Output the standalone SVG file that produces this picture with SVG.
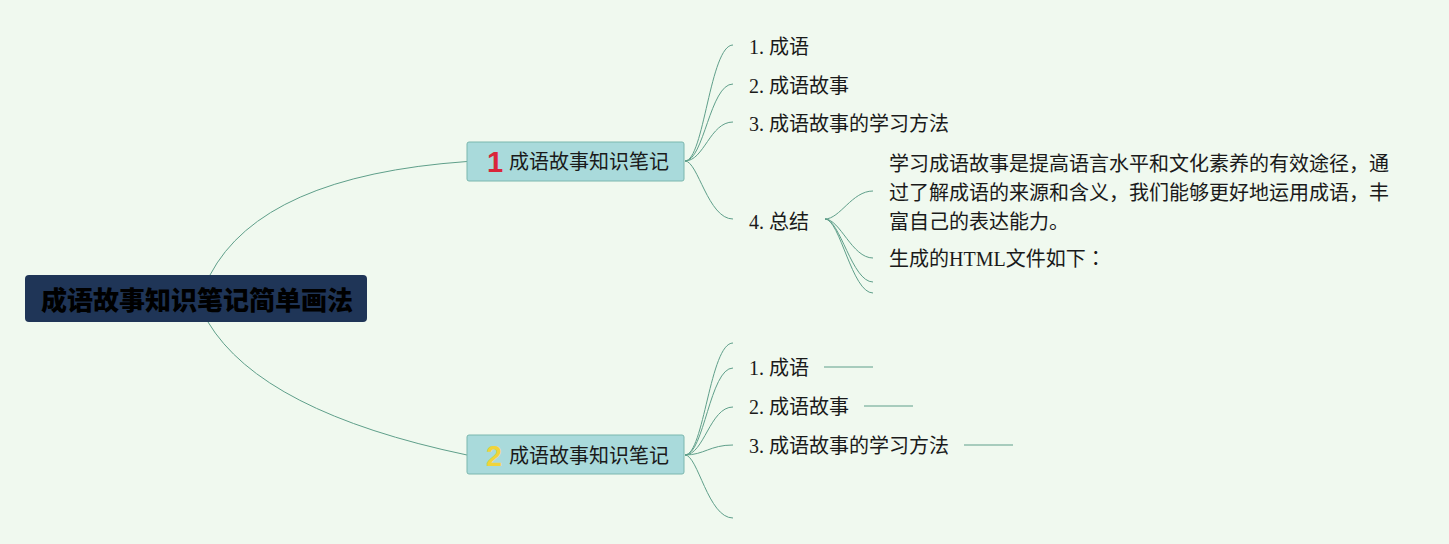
<svg xmlns="http://www.w3.org/2000/svg" width="1449" height="544" viewBox="0 0 1449 544">
<style>
.bg{fill:#f0f9ef}
.c{fill:none;stroke:#5f9f8a;stroke-width:1}
.t{font-family:"Liberation Serif","Noto Sans CJK SC",sans-serif;font-size:20px;fill:#1a1a1a}
.nt{font-family:"Noto Sans CJK SC",sans-serif;font-size:20px;fill:#1a1a1a}
.br{fill:#a9dadb;stroke:#7ab7ae;stroke-width:1}
.num{font-family:"Liberation Sans","Noto Sans CJK SC",sans-serif;font-weight:bold;font-size:29px}
</style>
<rect class="bg" x="0" y="0" width="1449" height="544"/>
<g id="connectors">
<path class="c" d="M210 275 Q262 176 467 161.5"/>
<path class="c" d="M208 322 Q262 412 467 455"/>
<path class="c" d="M685 161 C704 161 710 45 733 45"/>
<path class="c" d="M685 161 C704 161 710 84 733 84"/>
<path class="c" d="M685 161 C704 161 710 122 733 122"/>
<path class="c" d="M685 161 C698 161 708 219 733 219"/>
<path class="c" d="M825 219 C840 219 852 191 873 191"/>
<path class="c" d="M825 219 C840 219 852 258 873 258"/>
<path class="c" d="M825 219 C840 219 852 282 873 282"/>
<path class="c" d="M825 219 C840 219 852 293 873 293"/>
<path class="c" d="M685 455 C704 455 710 343 733 343"/>
<path class="c" d="M685 455 C704 455 710 368 733 368"/>
<path class="c" d="M685 455 C704 455 710 407 733 407"/>
<path class="c" d="M685 455 C704 455 710 445 733 445"/>
<path class="c" d="M685 455 C698 455 708 518 733 518"/>
<path class="c" d="M824 367 H873"/>
<path class="c" d="M864 406 H913"/>
<path class="c" d="M964 445 H1013"/>
</g>
<g id="root">
<rect x="25" y="275" width="342" height="47" rx="4" fill="#1f3557"/>
<text x="197" y="309.5" text-anchor="middle" font-family="Noto Sans CJK SC, sans-serif" font-weight="900" font-size="26" fill="#000">成语故事知识笔记简单画法</text>
</g>
<g id="branch1">
<rect class="br" x="467" y="142" width="217" height="39" rx="2"/>
<text class="num" x="487" y="172" fill="#d9263a">1</text>
<text class="nt" x="509" y="168.5">成语故事知识笔记</text>
</g>
<g id="branch2">
<rect class="br" x="467" y="435" width="217" height="39" rx="2"/>
<text class="num" x="486" y="466" fill="#f0d43a">2</text>
<text class="nt" x="509" y="462.5">成语故事知识笔记</text>
</g>
<g id="b1-items">
<text class="t" x="749" y="54">1. 成语</text>
<text class="t" x="749" y="93">2. 成语故事</text>
<text class="t" x="749" y="131">3. 成语故事的学习方法</text>
<text class="t" x="749" y="229">4. 总结</text>
</g>
<g id="summary">
<text class="t" x="889" y="171">学习成语故事是提高语言水平和文化素养的有效途径，通</text>
<text class="t" x="889" y="199.5">过了解成语的来源和含义，我们能够更好地运用成语，丰</text>
<text class="t" x="889" y="228.5">富自己的表达能力。</text>
<text class="t" x="889" y="266">生成的HTML文件如下<tspan font-family="Noto Sans CJK JP, sans-serif">：</tspan></text>
</g>
<g id="b2-items">
<text class="t" x="749" y="375">1. 成语</text>
<text class="t" x="749" y="414">2. 成语故事</text>
<text class="t" x="749" y="453">3. 成语故事的学习方法</text>
</g>
</svg>
